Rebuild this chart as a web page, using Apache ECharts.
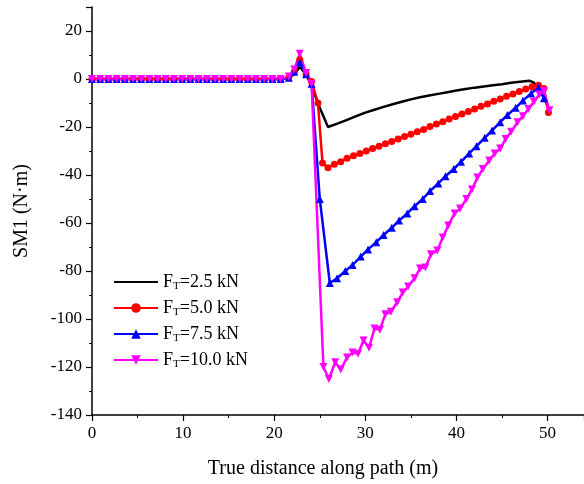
<!DOCTYPE html>
<html>
<head>
<meta charset="utf-8">
<script src="https://cdn.jsdelivr.net/npm/echarts@6/dist/echarts.min.js"></script>
<style>
  html, body { margin: 0; padding: 0; background: #fff; }
  #main { width: 584px; height: 484px; }
</style>
</head>
<body>
<div id="main"></div>
<script>
// 数据: 每条曲线的 x (m) 和 SM1 (N·m)
var flatX = [0, 0.9, 1.8, 2.7, 3.6, 4.5, 5.4, 6.3, 7.2, 8.1, 9, 9.9, 10.8, 11.7, 12.6, 13.5, 14.4, 15.3, 16.2, 17.1, 18, 18.9, 19.8, 20.7];
var flatY = [0, 0, 0, 0, 0, 0, 0, 0, 0, 0, 0, 0, 0, 0, 0, 0, 0, 0, 0, 0, 0, 0, 0, 0];

var x25 = [21.6, 22.2, 22.8, 23.5, 24.1, 25.0, 25.9, 27, 28, 29, 30, 31, 32, 33, 34, 35, 36, 37, 38, 39, 40, 41, 42, 43, 44, 45, 46, 47, 48, 48.5, 49.2, 50];
var y25 = [0.5, 2, 5, 2, -3, -12, -20, -18.5, -17, -15.5, -14, -12.8, -11.6, -10.5, -9.5, -8.5, -7.6, -6.9, -6.2, -5.5, -4.8, -4.2, -3.6, -3.1, -2.6, -2.2, -1.6, -1.1, -0.7, -1.5, -5, -11];

var x50 = [21.6, 22.2, 22.8, 23.5, 24.1, 24.8, 25.3, 25.9, 26.6, 27.3, 28, 28.7, 29.4, 30.1, 30.8, 31.5, 32.2, 32.9, 33.6, 34.3, 35, 35.7, 36.4, 37.1, 37.8, 38.5, 39.2, 39.9, 40.6, 41.3, 42, 42.7, 43.4, 44.1, 44.8, 45.5, 46.2, 46.9, 47.6, 48.3, 49, 49.6, 50.1];
var y50 = [0.5, 3, 8, 2, -1, -10, -35, -37, -35.5, -34.5, -33, -32, -31, -30, -29, -28, -27, -26, -25, -24, -23, -22, -21, -19.8, -18.8, -17.8, -16.7, -15.6, -14.6, -13.5, -12.5, -11.4, -10.4, -9.3, -8.3, -7.2, -6.2, -5.2, -4.2, -3.2, -2.6, -4, -14];

var x75 = [21.6, 22.2, 22.8, 23.5, 24.1, 25.0, 26.1, 26.9, 27.8, 28.6, 29.5, 30.3, 31.2, 32, 32.9, 33.7, 34.6, 35.4, 36.3, 37.1, 38, 38.8, 39.7, 40.5, 41.4, 42.2, 43.1, 43.9, 44.8, 45.6, 46.5, 47.3, 48.2, 49, 49.6];
var y75 = [0.5, 3, 7, 2, -2, -50, -85, -83, -80, -77.5, -74, -71, -68, -65, -62, -59, -56, -53, -50, -46.7, -43.5, -40.5, -37.5, -34.5, -31, -28, -24.5, -21.5, -18, -15, -12, -9, -6, -3.5, -8];

var x100 = [21.6, 22.2, 22.8, 23.5, 24.1, 25.4, 26.0, 26.7, 27.3, 28.0, 28.6, 29.2, 29.8, 30.4, 31.0, 31.6, 32.2, 32.8, 33.5, 34.1, 34.7, 35.4, 36.0, 36.6, 37.2, 37.9, 38.5, 39.1, 39.8, 40.4, 41.1, 41.7, 42.3, 42.9, 43.6, 44.2, 44.8, 45.4, 46.0, 46.7, 47.3, 47.9, 48.5, 49.1, 49.6, 50.2];
var y100 = [1, 4, 10.5, 2.5, -2, -120, -125, -118, -121, -116, -114, -114.5, -109, -112, -104, -104.5, -98, -97, -93, -89, -86.5, -83, -79, -78.5, -73, -71.5, -66, -61, -56, -54, -50, -46, -41, -37.5, -34, -31, -29, -25, -22, -18, -15.5, -12.5, -9.5, -6.5, -5, -13];

var legendNames = ['F{s|T}=2.5 kN', 'F{s|T}=5.0 kN', 'F{s|T}=7.5 kN', 'F{s|T}=10.0 kN'];

function pairs(xs, ys) {
    var out = [];
    for (var i = 0; i < xs.length; i++) out.push([xs[i], ys[i]]);
    return out;
}

var chartDom = document.getElementById('main');
var myChart = echarts.init(chartDom);
var font = '"Liberation Serif", "Times New Roman", serif';

var option = {
    animation: false,
    grid: { left: 92, right: 0, top: 7, bottom: 69 },
    legend: {
        orient: 'vertical',
        left: 108,
        top: 268,
        itemWidth: 44,
        itemHeight: 12,
        itemGap: 7.5,
        textStyle: {
            fontFamily: font, fontSize: 18, color: '#000',
            rich: { s: { fontFamily: font, fontSize: 11, verticalAlign: 'bottom', padding: [8, 0, 0, 0] } }
        },
        data: [
            { name: legendNames[0], itemStyle: { opacity: 0 } },
            legendNames[1], legendNames[2], legendNames[3]
        ]
    },
    xAxis: {
        type: 'value',
        min: 0, max: 54, interval: 10,
        name: 'True distance along path (m)',
        nameLocation: 'middle',
        nameGap: 44,
        nameTextStyle: { fontFamily: font, fontSize: 20, color: '#000', padding: [0, 30, 0, 0] },
        axisLine: { onZero: false, lineStyle: { color: '#000', width: 1.5 } },
        axisTick: { length: 6, lineStyle: { color: '#000', width: 1.2 } },
        minorTick: { show: true, splitNumber: 2, length: 3, lineStyle: { color: '#000', width: 1 } },
        axisLabel: { fontFamily: font, fontSize: 17, color: '#000', margin: 10, showMaxLabel: false },
        splitLine: { show: false }
    },
    yAxis: {
        type: 'value',
        min: -140, max: 30, interval: 20,
        name: 'SM1 (N·m)',
        nameLocation: 'middle',
        nameGap: 60,
        nameTextStyle: { fontFamily: font, fontSize: 20, color: '#000' },
        axisLine: { show: true, onZero: false, lineStyle: { color: '#000', width: 1.5 } },
        axisTick: { show: true, length: 6, lineStyle: { color: '#000', width: 1.2 } },
        minorTick: { show: true, splitNumber: 2, length: 3, lineStyle: { color: '#000', width: 1 } },
        axisLabel: { fontFamily: font, fontSize: 17, color: '#000', margin: 10, showMaxLabel: false },
        splitLine: { show: false }
    },
    series: [
        {
            name: legendNames[0], type: 'line', symbol: 'none',
            lineStyle: { color: '#000', width: 2.5 }, itemStyle: { color: '#000' },
            data: pairs(flatX.concat(x25), flatY.concat(y25))
        },
        {
            name: legendNames[1], type: 'line', symbol: 'circle', symbolSize: 7,
            lineStyle: { color: '#ff0000', width: 2.5 }, itemStyle: { color: '#ff0000' },
            data: pairs(flatX.concat(x50), flatY.concat(y50))
        },
        {
            name: legendNames[2], type: 'line', symbol: 'triangle', symbolSize: 8,
            lineStyle: { color: '#0000ff', width: 2.5 }, itemStyle: { color: '#0000ff' },
            data: pairs(flatX.concat(x75), flatY.concat(y75))
        },
        {
            name: legendNames[3], type: 'line', symbol: 'triangle', symbolSize: 8, symbolRotate: 180,
            lineStyle: { color: '#ff00ff', width: 2.5 }, itemStyle: { color: '#ff00ff' },
            data: pairs(flatX.concat(x100), flatY.concat(y100))
        }
    ]
};
option && myChart.setOption(option);
</script>
</body>
</html>
